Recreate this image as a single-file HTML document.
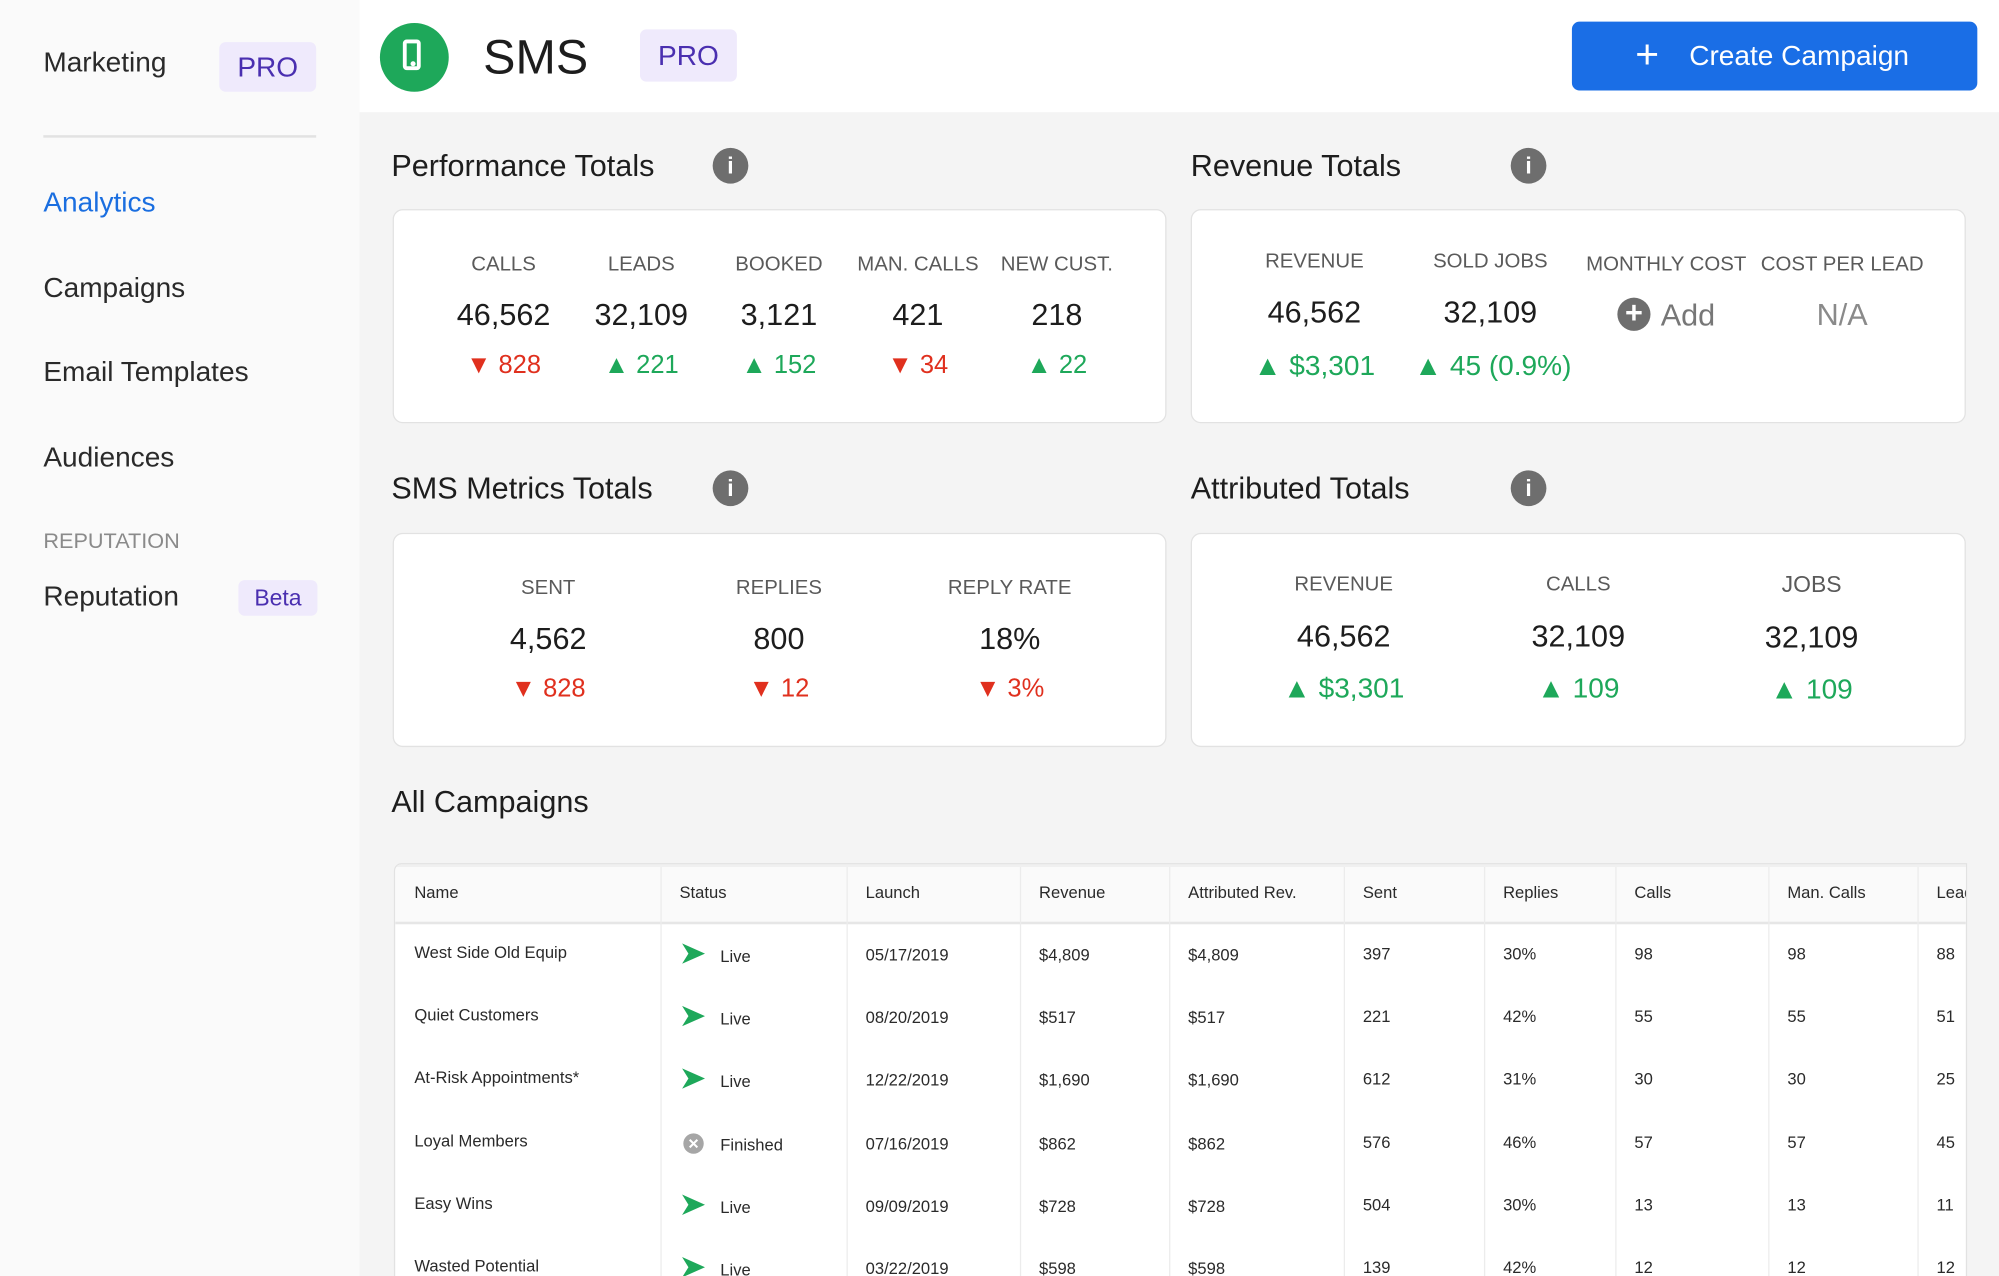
<!DOCTYPE html>
<html><head><meta charset="utf-8">
<style>
html,body{margin:0;padding:0;width:1999px;height:1276px;overflow:hidden;background:#fff;}
#root{position:absolute;left:0;top:0;width:1568px;height:1001px;transform:scale(1.27487);transform-origin:0 0;font-family:"Liberation Sans",sans-serif;color:#1d1d1d;overflow:hidden;}
.c{position:absolute;transform:translate(-50%,-50%);white-space:nowrap;}
.l{position:absolute;transform:translateY(-50%);white-space:nowrap;}
.lab{font-size:16px;color:#5a5a5a;}
.val{font-size:24px;color:#1d1d1d;}
.up{font-size:20px;color:#1ea85a;}
.dn{font-size:20px;color:#e0301e;}
.card{position:absolute;background:#fff;border:1.5px solid #e2e2e2;border-radius:8px;box-sizing:border-box;}
.title{position:absolute;font-size:24px;color:#1d1d1d;transform:translateY(-50%);white-space:nowrap;}
.info{position:absolute;width:28px;height:28px;border-radius:50%;background:#6e6e6e;color:#fff;font-size:18px;font-weight:bold;text-align:center;line-height:28px;transform:translate(-50%,-50%);}
.nav{position:absolute;left:34px;font-size:22px;color:#2a2a2a;transform:translateY(-50%);}
.badge{position:absolute;background:#efeafc;color:#4a2fb0;border-radius:5px;text-align:center;}
.td{position:absolute;font-size:13px;color:#2a2a2a;transform:translateY(-50%);white-space:nowrap;}
</style></head>
<body>
<div id="root">
  <div style="position:absolute;left:0;top:0;width:282px;height:1001px;background:#fafafa;"></div>
  <div style="position:absolute;left:282px;top:0;width:1286px;height:88px;background:#fff;"></div>
  <div style="position:absolute;left:282px;top:88px;width:1286px;height:913px;background:#f4f4f4;"></div>

  <div class="nav" style="top:49px;">Marketing</div>
  <div class="badge" style="left:172px;top:33px;width:76px;height:39px;line-height:39px;font-size:22px;">PRO</div>
  <div style="position:absolute;left:34px;top:106px;width:214px;height:2px;background:#e2e2e2;"></div>
  <div class="nav" style="top:159px;color:#1a6ee0;">Analytics</div>
  <div class="nav" style="top:226px;">Campaigns</div>
  <div class="nav" style="top:292px;">Email Templates</div>
  <div class="nav" style="top:359px;">Audiences</div>
  <div class="nav" style="top:425px;font-size:17px;color:#8a8a8a;">REPUTATION</div>
  <div class="nav" style="top:468px;">Reputation</div>
  <div class="badge" style="left:187px;top:455px;width:62px;height:28px;line-height:28px;font-size:18px;">Beta</div>

  <div style="position:absolute;left:298px;top:18px;width:54px;height:54px;border-radius:50%;background:#1ea85a;">
    <div style="position:absolute;left:18px;top:13px;width:14px;height:24px;border:3px solid #fff;border-radius:3px;box-sizing:border-box;"></div>
    <div style="position:absolute;left:24px;top:30px;width:4px;height:4px;border-radius:50%;background:#fff;"></div>
  </div>
  <div class="l" style="left:379px;top:46px;font-size:38px;">SMS</div>
  <div class="badge" style="left:502px;top:23px;width:76px;height:41px;line-height:41px;font-size:22px;">PRO</div>
  <div style="position:absolute;left:1233px;top:17px;width:318px;height:54px;background:#1a6ee6;border-radius:6px;color:#fff;">
    <div class="c" style="left:59px;top:26px;font-size:32px;font-weight:300;">+</div>
    <div class="l" style="left:92px;top:27px;font-size:22px;">Create Campaign</div>
  </div>

  <!-- Section titles -->
  <div class="title" style="left:307px;top:131px;">Performance Totals</div>
  <div class="info" style="left:573px;top:130px;">i</div>
  <div class="title" style="left:934px;top:131px;">Revenue Totals</div>
  <div class="info" style="left:1199px;top:130px;">i</div>
  <div class="title" style="left:307px;top:384px;">SMS Metrics Totals</div>
  <div class="info" style="left:573px;top:383px;">i</div>
  <div class="title" style="left:934px;top:384px;">Attributed Totals</div>
  <div class="info" style="left:1199px;top:383px;">i</div>

  <div class="card" style="left:308px;top:164px;width:607px;height:168px;"></div>
  <div class="card" style="left:934px;top:164px;width:608px;height:168px;"></div>
  <div class="card" style="left:308px;top:418px;width:607px;height:168px;"></div>
  <div class="card" style="left:934px;top:418px;width:608px;height:168px;"></div>

  <!-- Performance -->
  <div class="c lab" style="left:395px;top:208px;">CALLS</div>
  <div class="c val" style="left:395px;top:248px;">46,562</div>
  <div class="c dn" style="left:395px;top:287px;">▼ 828</div>
  <div class="c lab" style="left:503px;top:208px;">LEADS</div>
  <div class="c val" style="left:503px;top:248px;">32,109</div>
  <div class="c up" style="left:503px;top:287px;">▲ 221</div>
  <div class="c lab" style="left:611px;top:208px;">BOOKED</div>
  <div class="c val" style="left:611px;top:248px;">3,121</div>
  <div class="c up" style="left:611px;top:287px;">▲ 152</div>
  <div class="c lab" style="left:720px;top:208px;">MAN. CALLS</div>
  <div class="c val" style="left:720px;top:248px;">421</div>
  <div class="c dn" style="left:720px;top:287px;">▼ 34</div>
  <div class="c lab" style="left:829px;top:208px;">NEW CUST.</div>
  <div class="c val" style="left:829px;top:248px;">218</div>
  <div class="c up" style="left:829px;top:287px;">▲ 22</div>

  <!-- Revenue -->
  <div class="c lab" style="left:1031px;top:206px;">REVENUE</div>
  <div class="c val" style="left:1031px;top:246px;">46,562</div>
  <div class="c up" style="left:1031px;top:287px;font-size:22px;">▲ $3,301</div>
  <div class="c lab" style="left:1169px;top:206px;">SOLD JOBS</div>
  <div class="c val" style="left:1169px;top:246px;">32,109</div>
  <div class="c up" style="left:1171px;top:287px;font-size:22px;">▲ 45 (0.9%)</div>
  <div class="c lab" style="left:1307px;top:208px;">MONTHLY COST</div>
  <div class="c" style="left:1307px;top:248px;font-size:24px;color:#777;"><span style="display:inline-block;width:26px;height:26px;border-radius:50%;background:#6e6e6e;color:#fff;text-align:center;line-height:26px;font-size:24px;font-weight:bold;vertical-align:2px;margin-right:8px;">+</span>Add</div>
  <div class="c lab" style="left:1445px;top:208px;">COST PER LEAD</div>
  <div class="c" style="left:1445px;top:248px;font-size:24px;color:#8a8a8a;">N/A</div>

  <!-- SMS metrics -->
  <div class="c lab" style="left:430px;top:462px;">SENT</div>
  <div class="c val" style="left:430px;top:502px;">4,562</div>
  <div class="c dn" style="left:430px;top:541px;">▼ 828</div>
  <div class="c lab" style="left:611px;top:462px;">REPLIES</div>
  <div class="c val" style="left:611px;top:502px;">800</div>
  <div class="c dn" style="left:611px;top:541px;">▼ 12</div>
  <div class="c lab" style="left:792px;top:462px;">REPLY RATE</div>
  <div class="c val" style="left:792px;top:502px;">18%</div>
  <div class="c dn" style="left:792px;top:541px;">▼ 3%</div>

  <!-- Attributed -->
  <div class="c lab" style="left:1054px;top:459px;">REVENUE</div>
  <div class="c val" style="left:1054px;top:500px;">46,562</div>
  <div class="c up" style="left:1054px;top:540px;font-size:22px;">▲ $3,301</div>
  <div class="c lab" style="left:1238px;top:459px;">CALLS</div>
  <div class="c val" style="left:1238px;top:500px;">32,109</div>
  <div class="c up" style="left:1238px;top:540px;font-size:22px;">▲ 109</div>
  <div class="c lab" style="left:1421px;top:459px;font-size:18px;">JOBS</div>
  <div class="c val" style="left:1421px;top:501px;">32,109</div>
  <div class="c up" style="left:1421px;top:541px;font-size:22px;">▲ 109</div>

  <div class="title" style="left:307px;top:630px;">All Campaigns</div>

  <div id="table" style="position:absolute;left:309px;top:677px;width:1234px;height:330px;background:#fff;border:1.5px solid #e2e2e2;border-radius:6px 0 0 0;box-sizing:border-box;overflow:hidden;">
    <div style="position:absolute;left:0;top:0;width:100%;height:45px;background:#fafafa;border-bottom:2px solid #e6e6e6;"></div>
  </div>
</div>
<script>
var headers=["Name","Status","Launch","Revenue","Attributed Rev.","Sent","Replies","Calls","Man. Calls","Leads"];
var names=["West Side Old Equip","Quiet Customers","At-Risk Appointments*","Loyal Members","Easy Wins","Wasted Potential"];
var statuses=["Live","Live","Live","Finished","Live","Live"];
var launches=["05/17/2019","08/20/2019","12/22/2019","07/16/2019","09/09/2019","03/22/2019"];
var revenues=["$4,809","$517","$1,690","$862","$728","$598"];
var attrRev=["$4,809","$517","$1,690","$862","$728","$598"];
var sent=["397","221","612","576","504","139"];
var replies=["30%","42%","31%","46%","30%","42%"];
var calls=["98","55","30","57","13","12"];
var manCalls=["98","55","30","57","13","12"];
var leads=["88","51","25","45","11","12"];
var colEdges=[0,208,354,490,607,744,854,957,1077,1194];
var tbl=document.getElementById('table');
function cellText(txt,x,y,name){
  var d=document.createElement('div');
  d.className='td';
  d.style.left=x+'px';d.style.top=y+'px';
  d.textContent=txt;
  
  
  tbl.appendChild(d);return d;
}
for(var i=1;i<colEdges.length;i++){
  var ln=document.createElement('div');
  ln.style.cssText='position:absolute;top:0;width:1px;height:100%;background:#ececec;left:'+colEdges[i]+'px;';
  
  
  tbl.appendChild(ln);
}
for(var h=0;h<headers.length;h++){
  var hd=cellText(headers[h],colEdges[h]+15,22,'column-header');
  
}
var rowH=49.3;
for(var r=0;r<names.length;r++){
  var y=45+rowH*r+rowH/2;
  var top=45+rowH*(r+1);
  var sep=document.createElement('div');
  sep.style.cssText='position:absolute;left:0;width:100%;height:2px;background:#f0f0f0;top:'+top+'px;';
  
  
  tbl.appendChild(sep);
  cellText(names[r],15,y-1,'campaign-name');
  var ic=document.createElement('div');
  ic.style.cssText='position:absolute;left:'+(colEdges[1]+17)+'px;top:'+(y-8)+'px;width:18px;height:16px;';
  if(statuses[r]==='Live'){
    ic.innerHTML='<svg width="18" height="16"><polygon points="0,0 18,8 0,16 5,8" fill="#1ea85a"/></svg>';
  }else{
    ic.innerHTML='<svg width="18" height="18"><circle cx="9" cy="9" r="8" fill="#a6a6a6"/><path d="M6 6 L12 12 M12 6 L6 12" stroke="#fff" stroke-width="1.6"/></svg>';
  }
  
  
  tbl.appendChild(ic);
  cellText(statuses[r],colEdges[1]+47,y+2,'campaign-status');
  cellText(launches[r],colEdges[2]+15,y+1,'campaign-launch');
  cellText(revenues[r],colEdges[3]+15,y+1,'campaign-revenue');
  cellText(attrRev[r],colEdges[4]+15,y+1,'campaign-attributed-revenue');
  cellText(sent[r],colEdges[5]+15,y,'campaign-sent');
  cellText(replies[r],colEdges[6]+15,y,'campaign-replies');
  cellText(calls[r],colEdges[7]+15,y,'campaign-calls');
  cellText(manCalls[r],colEdges[8]+15,y,'campaign-man-calls');
  cellText(leads[r],colEdges[9]+15,y,'campaign-leads');
}
</script>
</body></html>
